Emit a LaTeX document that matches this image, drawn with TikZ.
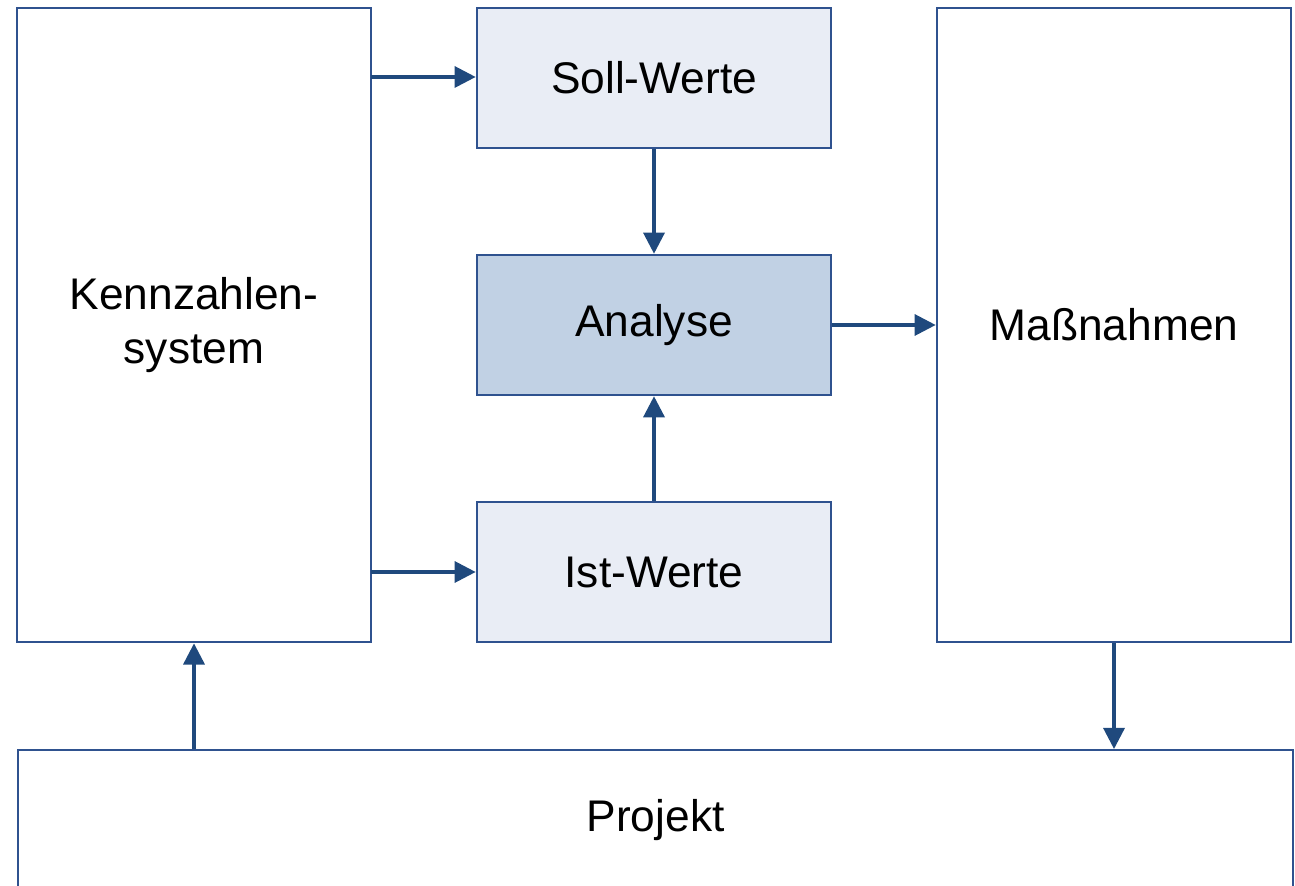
\documentclass[tikz,border=0pt]{standalone}
\usepackage{fontspec}
\setmainfont{Liberation Sans}
\usetikzlibrary{arrows.meta}
\definecolor{bordc}{RGB}{47,82,143}
\definecolor{arrc}{RGB}{31,73,125}
\definecolor{lightf}{RGB}{233,237,245}
\definecolor{darkf}{RGB}{193,209,228}
\begin{document}
\begin{tikzpicture}[x=0.01cm,y=-0.01cm,
  box/.style={draw=bordc,line width=0.7pt,inner sep=0pt,font=\fontsize{12.6}{15.2}\selectfont,align=center},
  conn/.style={draw=arrc,line width=0.9pt,-{Triangle[length=6pt,width=6pt]}}]
\useasboundingbox (0,0) rectangle (1295,886);
\node[box,minimum width=3.54cm,minimum height=6.34cm] (kz) at (194,325) {Kennzahlen-\\system};
\coordinate (kzR1) at (371,77);
\coordinate (kzR2) at (371,572);
\node[box,fill=lightf,minimum width=3.54cm,minimum height=1.40cm] (soll) at (654,78) {Soll-Werte};
\node[box,fill=darkf,minimum width=3.54cm,minimum height=1.40cm] (ana) at (654,325) {Analyse};
\node[box,fill=lightf,minimum width=3.54cm,minimum height=1.40cm] (ist) at (654,572) {Ist-Werte};
\node[box,minimum width=3.54cm,minimum height=6.34cm] (mass) at (1114,325) {Maßnahmen};
\node[box,minimum width=12.74cm,minimum height=1.40cm,anchor=north west] (proj) at (17,749) {Projekt};
\draw[conn] (kzR1) -- (kzR1 -| soll.west);
\draw[conn] (kzR2) -- (kzR2 -| ist.west);
\draw[conn] (soll.south) -- (ana.north);
\draw[conn] (ist.north) -- (ana.south);
\draw[conn] (ana.east) -- (mass.west);
\draw[conn] (mass.south) -- (mass.south |- proj.north);
\draw[conn] (kz.south |- proj.north) -- (kz.south);
\end{tikzpicture}
\end{document}
